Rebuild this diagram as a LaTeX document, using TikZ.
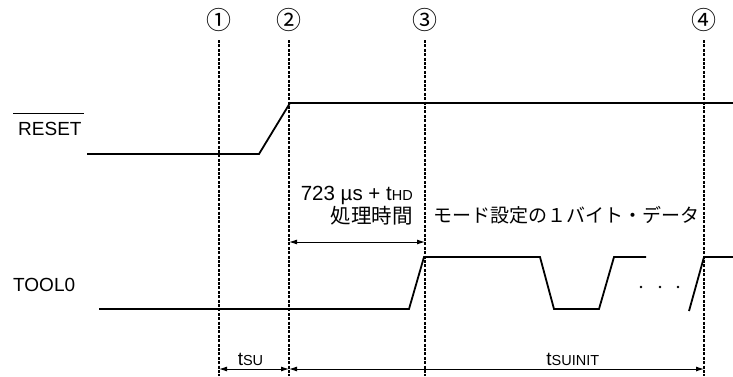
\documentclass[tikz,border=0pt]{standalone}
\usepackage{fontspec}
\setmainfont{Liberation Sans}
\newfontfamily\jpfont{Noto Sans CJK JP}
\usetikzlibrary{arrows.meta, calc}
\newcommand{\smsub}[1]{{\fontsize{14.5}{16}\selectfont #1}}

\begin{document}
\begin{tikzpicture}[
    x=1pt, y=-1pt,
    >={Latex[length=8pt,width=5pt]},
    font=\fontsize{19}{22}\selectfont,
    % Line Styles
    signal/.style={line width=1.8pt, line join=miter},
    marker/.style={line width=1.2pt, dash pattern=on 3pt off 1.4pt},
    dimarrow/.style={<->, line width=1pt},
    % Text Styles
    lbl/.style={inner sep=0pt, anchor=base west},
    lblr/.style={inner sep=0pt, anchor=base east},
    jp/.style={font=\jpfont\fontsize{#1}{22}\selectfont},
    jp/.default=19
]
    \useasboundingbox (0,0) rectangle (733,376);

    % =========================================================================
    % 1. TIMING MARKERS
    % =========================================================================
    \foreach \x/\n/\c in {219/1/①, 289/2/②, 425/3/③, 704/4/④} {
        \node (m\n) [jp=25, inner sep=0pt] at (\x,20) {\c};
        \coordinate (b\n) at (\x,369);
        \draw[marker] (\x,40) -- (\x,376);
    }

    % =========================================================================
    % 2. SIGNAL NAMES
    % =========================================================================
    \node (rst) [lbl] at (18,135) {RESET};
    \draw[line width=1.2pt] ([shift={(-5pt,8pt)}]rst.north west) -- ([shift={(2.5pt,8pt)}]rst.north east);
    \node (tool) [lbl] at (13,291) {TOOL0};

    % =========================================================================
    % 3. WAVEFORMS
    % =========================================================================
    \draw[signal] (87,154) -- (259,154) -- (290,103) -- (733,103);
    \draw[signal] (99,309) -- (409,309) -- (424,257) -- (540,257) -- (554,309)
        -- (599,309) -- (614,257) -- (646,257);
    \foreach \x in {641,660,678}
        \fill (\x,287) circle (1.4);
    \draw[signal] (689,311) -- (704,257) -- (733,257);

    % =========================================================================
    % 4. TIMING LABELS & DIMENSIONS
    % =========================================================================
    \node (dly)  [lblr, font=\fontsize{20.5}{22}\selectfont] at (413,200) {723 µs + t\smsub{HD}};
    \node (proc) [lblr, jp=20.5] at (413,223) {処理時間};
    \node (data) [lbl, jp] at (433,222) {モード設定の１バイト・データ};

    \coordinate (h2) at (289,242);
    \coordinate (h3) at (425,242);
    \draw[dimarrow] (h2) -- (h3);

    \draw[dimarrow] (b1) -- (b2)
        node[pos=0.45, anchor=base, yshift=4pt, inner sep=0pt] {t\smsub{SU}};
    \draw[dimarrow] (b2) -- (b4)
        node[pos=0.684, anchor=base, yshift=4pt, inner sep=0pt] {t\smsub{SUINIT}};

\end{tikzpicture}
\end{document}
